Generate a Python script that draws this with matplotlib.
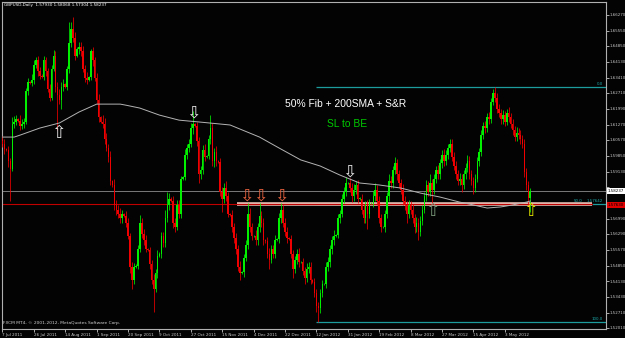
import matplotlib
matplotlib.use("Agg")
import matplotlib.pyplot as plt
import matplotlib.transforms as mtransforms
import numpy as np

# GBPUSD daily candles, prices in pips above 1.50000
first_open = 1050
closes = [
    1040, 1015, 1010, 960, 925, 1130, 1140, 1150, 1145, 1120,
    1130, 1140, 1280, 1320, 1318, 1330, 1400, 1420, 1370, 1350,
    1345, 1420, 1370, 1290, 1250, 1380, 1440, 1300, 1260, 1240,
    1300, 1310, 1300, 1380, 1500, 1560, 1520, 1440, 1470, 1480,
    1460, 1380, 1340, 1330, 1345, 1460, 1420, 1340, 1240, 1160,
    1140, 1130, 1060, 1020, 980, 870, 850, 760, 740, 720,
    700, 720, 710, 680, 620, 480, 420, 480, 485, 560,
    680, 630, 600, 560, 555, 490, 420, 380, 450, 530,
    540, 620, 590, 700, 760, 790, 780, 680, 660, 760,
    720, 880, 890, 990, 1020, 1040, 1110, 1130, 1120, 1050,
    900, 920, 1010, 980, 985, 1060, 1110, 960, 1000, 960,
    955, 820, 790, 840, 800, 720, 715, 660, 610, 560,
    480, 450, 455, 520, 580, 720, 660, 620, 620, 600,
    660, 710, 680, 600, 595, 540, 510, 560, 540, 600,
    605, 700, 740, 680, 640, 610, 605, 540, 470, 510,
    540, 500, 500, 460, 430, 470, 480, 420, 410, 360,
    300, 290, 360, 400, 400, 480, 500, 560, 600, 620,
    625, 700, 720, 790, 820, 860, 860, 840, 800, 830,
    850, 790, 790, 740, 700, 760, 720, 770, 770, 800,
    830, 780, 700, 660, 660, 720, 800, 870, 860, 920,
    950, 900, 860, 830, 780, 760, 720, 760, 740, 700,
    660, 680, 640, 690, 740, 800, 850, 820, 860, 830,
    880, 920, 900, 950, 990, 960, 990, 1020, 1040, 980,
    940, 900, 870, 880, 850, 900, 930, 960, 900, 870,
    840, 880, 960, 1000, 1080, 1120, 1110, 1160, 1150, 1230,
    1270, 1250, 1200, 1180, 1150, 1170, 1140, 1180, 1160, 1130,
    1100, 1070, 1090, 1080, 1060, 1040, 910, 850, 793, 824,
]
wick_up = [
    25, 20, 5, 20, 15, 30, 25, 20, 5, 25,
    20, 15, 15, 20, 5, 25, 20, 15, 20, 20,
    5, 20, 15, 15, 20, 20, 26, 20, 20, 30,
    20, 25, 5, 15, 94, 34, 57, 30, 10, 25,
    25, 25, 20, 25, 5, 10, 20, 15, 20, 25,
    5, 30, 25, 30, 20, 25, 5, 30, 25, 20,
    25, 20, 5, 25, 20, 15, 20, 15, 5, 20,
    35, 20, 20, 25, 5, 15, 20, 25, 20, 25,
    5, 20, 20, 40, 60, 25, 5, 20, 20, 25,
    25, 15, 5, 25, 20, 20, 25, 60, 5, 20,
    20, 20, 25, 30, 5, 20, 60, 25, 20, 30,
    5, 20, 25, 20, 30, 20, 5, 25, 20, 25,
    20, 25, 5, 20, 20, 50, 25, 20, 5, 25,
    20, 60, 25, 20, 5, 20, 25, 20, 20, 25,
    5, 25, 30, 20, 20, 20, 5, 20, 15, 20,
    20, 25, 5, 20, 20, 25, 20, 20, 5, 20,
    20, 20, 20, 20, 5, 20, 25, 20, 20, 25,
    5, 20, 20, 20, 25, 30, 5, 25, 20, 25,
    20, 25, 5, 20, 25, 20, 25, 20, 5, 25,
    30, 20, 20, 20, 5, 20, 20, 30, 25, 20,
    30, 20, 20, 20, 25, 20, 20, 25, 20, 25,
    20, 25, 20, 20, 20, 20, 25, 20, 40, 20,
    20, 20, 25, 20, 20, 25, 20, 20, 22, 20,
    20, 20, 20, 25, 20, 20, 20, 30, 25, 20,
    20, 20, 20, 20, 20, 20, 25, 20, 25, 20,
    20, 29, 20, 20, 20, 25, 20, 20, 25, 20,
    20, 20, 25, 20, 20, 20, 20, 20, 20, 13,
]
wick_dn = [
    15, 20, 5, 25, 145, 10, 20, 15, 5, 20,
    15, 20, 10, 20, 5, 15, 20, 15, 20, 15,
    5, 15, 20, 15, 15, 10, 10, 25, 158, 20,
    40, 20, 5, 15, 20, 20, 15, 20, 5, 20,
    20, 15, 20, 20, 5, 15, 25, 15, 20, 20,
    5, 20, 20, 15, 25, 20, 5, 20, 25, 20,
    20, 20, 5, 20, 15, 30, 42, 20, 5, 15,
    15, 20, 20, 15, 5, 20, 20, 107, 15, 20,
    5, 20, 20, 20, 15, 20, 5, 25, 20, 15,
    20, 20, 5, 15, 20, 20, 15, 25, 5, 20,
    40, 20, 20, 20, 5, 15, 20, 20, 25, 20,
    5, 20, 60, 20, 20, 15, 5, 20, 20, 20,
    20, 30, 5, 20, 15, 20, 20, 20, 5, 20,
    20, 20, 20, 20, 5, 20, 40, 15, 20, 20,
    5, 15, 20, 20, 20, 20, 5, 20, 40, 20,
    20, 20, 5, 20, 30, 20, 20, 20, 5, 20,
    25, 60, 20, 20, 5, 15, 20, 20, 20, 20,
    5, 15, 20, 15, 20, 20, 5, 20, 25, 20,
    20, 20, 5, 20, 20, 20, 70, 20, 5, 20,
    20, 20, 20, 20, 5, 20, 20, 20, 20, 20,
    20, 25, 20, 20, 20, 20, 40, 20, 20, 20,
    25, 20, 40, 20, 20, 15, 20, 20, 20, 60,
    20, 20, 20, 20, 20, 20, 15, 20, 20, 20,
    20, 20, 20, 20, 30, 15, 20, 20, 20, 20,
    30, 20, 15, 20, 15, 20, 20, 15, 20, 15,
    15, 20, 20, 20, 20, 20, 20, 15, 20, 20,
    20, 20, 20, 20, 20, 20, 20, 20, 33, 63,
]

# 200 SMA read at a few bars (pips above 1.50000)
sma_bars = [0, 6, 9, 19, 29, 39, 48, 60, 63, 70, 80, 90, 101, 116, 131, 141,
            152, 162, 172, 182, 192, 203, 213, 223, 233, 238, 247, 254, 260, 267, 269]
sma_pips = [1070, 1070, 1079, 1111, 1134, 1184, 1220, 1220, 1215, 1202, 1170,
            1147, 1138, 1125, 1070, 1020, 966, 938, 897, 861, 852, 838, 815,
            797, 774, 765, 747, 752, 761, 774, 779]

date_labels = ["7 Jul 2011", "26 Jul 2011", "14 Aug 2011", "1 Sep 2011",
               "20 Sep 2011", "9 Oct 2011", "27 Oct 2011", "15 Nov 2011",
               "4 Dec 2011", "22 Dec 2011", "12 Jan 2012", "31 Jan 2012",
               "19 Feb 2012", "8 Mar 2012", "27 Mar 2012", "15 Apr 2012",
               "3 May 2012"]
price_ticks = [1.66270, 1.65550, 1.64850, 1.64130, 1.63410, 1.62710, 1.61990,
               1.61270, 1.60570, 1.59850, 1.59130, 1.58430, 1.57710, 1.56990,
               1.56290, 1.55570, 1.54850, 1.54130, 1.53430, 1.52710, 1.52010]
hidden_ticks = [1.58430, 1.57710]  # covered by the price boxes

bid = 1.58237
hline_price = 1.57642
fib_high = 1.62988
fib_low = 1.52296
fib_mid = (fib_high + fib_low) / 2

# arrow objects on the chart: bar, price, glyph, colour
arrow_bars = [28.5, 97.4, 124.4, 131.2, 142.2, 176.6, 219.2, 268.9]
arrow_prices = [1.6089, 1.6180, 1.5802, 1.5802, 1.5802, 1.5911, 1.5734, 1.5734]
arrow_glyphs = ["⇧", "⇩", "⇩", "⇩", "⇩", "⇩", "⇧", "⇧"]
arrow_colors = ["#e8e8e8", "#e8e8e8", "#e8603c", "#e8603c", "#e8603c",
                "#e8e8e8", "#7c9c7c", "#e6e600"]

# build OHLC
c = 1.5 + np.array(closes) / 1e4
o = np.concatenate([[1.5 + first_open / 1e4], c[:-1]])
hi = np.maximum(o, c) + np.array(wick_up) / 1e4
lo = np.minimum(o, c) - np.array(wick_dn) / 1e4
idx = np.arange(len(c))
bull = c >= o
cols = np.where(bull, "#00f000", "#f00000")

fig = plt.figure(figsize=(6.25, 3.38), dpi=100, facecolor="#030303")
ax = fig.add_axes([2 / 625, 1 - 329 / 338, 604 / 625, 327 / 338])
ax.set_facecolor("#030303")

x_right = (606 - 2.5) / 1.962
ax.set_xlim(-0.25, x_right)
ax.set_ylim(1.51964, 1.66848)

# candles
ax.vlines(idx, lo, hi, colors=cols, lw=0.55, zorder=3)
ax.bar(idx, np.maximum(np.abs(c - o), 0.00008), bottom=np.minimum(o, c), width=0.8,
       color=cols, lw=0, zorder=3)

# 200 SMA
ax.plot(sma_bars, 1.5 + np.array(sma_pips) / 1e4, color="#b4b4b4", lw=0.7, zorder=4)

# horizontal lines
ax.axhline(bid, color="#8c8c8c", lw=0.6, zorder=2)
ax.hlines([fib_high, fib_low, fib_mid], 160, x_right, color="#1c9c9c", lw=0.9, zorder=2)
ax.plot([119.5, 300.5], [fib_mid - 0.0001] * 2, color="#e6bcb2", lw=2.6,
        solid_capstyle="butt", zorder=2.2)
ax.plot([-0.25, 300.5], [hline_price] * 2, color="#c00000", lw=0.8, zorder=2.3)

# fib labels
fs_small = 2.9
ax.text(306, fib_high + 0.0004, "0.0", color="#1caaaa", fontsize=fs_small, ha="right", va="bottom")
ax.text(306, fib_low + 0.0004, "100.0", color="#1caaaa", fontsize=fs_small, ha="right", va="bottom")
ax.text(295.6, fib_mid + 0.0004, "50.0", color="#1caaaa", fontsize=fs_small, ha="right", va="bottom")
ax.text(306, fib_mid + 0.0004, "1.57642", color="#1caaaa", fontsize=fs_small, ha="right", va="bottom")

# arrows
for b, p, g, col in zip(arrow_bars, arrow_prices, arrow_glyphs, arrow_colors):
    ax.text(b, p, g, color=col, fontsize=12.5, ha="center", va="center",
            family="DejaVu Sans", zorder=6)

# annotations
ax.text(175, 1.6220, "50% Fib + 200SMA + S&R", color="white", fontsize=7.4,
        family="Liberation Sans", ha="center", va="center")
ax.text(175.5, 1.6130, "SL to BE", color="#00c800", fontsize=7.4,
        family="Liberation Sans", ha="center", va="center")

ax.text(0.003, 0.997, "GBPUSD,Daily  1.57930 1.58068 1.57304 1.58237",
        transform=ax.transAxes, color="white", fontsize=3, va="top", ha="left")
ax.text(0.002, 0.012, "FXCM MT4, © 2001-2012, MetaQuotes Software Corp.",
        transform=ax.transAxes, color="#d0d0d0", fontsize=3.2, va="bottom", ha="left")

# axes / ticks
for s in ax.spines.values():
    s.set_color("#b0b0b0")
    s.set_linewidth(0.8)
ax.yaxis.tick_right()
ax.set_yticks(price_ticks)
ax.set_yticklabels(["" if v in hidden_ticks else "%.5f" % v for v in price_ticks])
ax.set_xticks(np.arange(len(date_labels)) * 16)
ax.set_xticklabels(date_labels)
for lbl in ax.get_xticklabels():
    lbl.set_ha("left")
ax.tick_params(axis="x", colors="#c8c8c8", labelsize=3, length=2, width=0.6, pad=1)
ax.tick_params(axis="y", colors="#c8c8c8", labelsize=fs_small, length=2, width=0.6, pad=0.8)

# price boxes on the right scale
trans = mtransforms.blended_transform_factory(ax.transAxes, ax.transData)
ax.text(1.003, bid, "1.58237", transform=trans, color="black", fontsize=fs_small,
        va="center", ha="left", clip_on=False, zorder=10,
        bbox=dict(boxstyle="square,pad=0.25", fc="white", ec="none"))
ax.text(1.003, hline_price - 0.0002, "1.57630", transform=trans, color="black", fontsize=fs_small,
        va="center", ha="left", clip_on=False, zorder=10,
        bbox=dict(boxstyle="square,pad=0.25", fc="#e00000", ec="none"))

plt.savefig("out.png", dpi=100, facecolor=fig.get_facecolor())
